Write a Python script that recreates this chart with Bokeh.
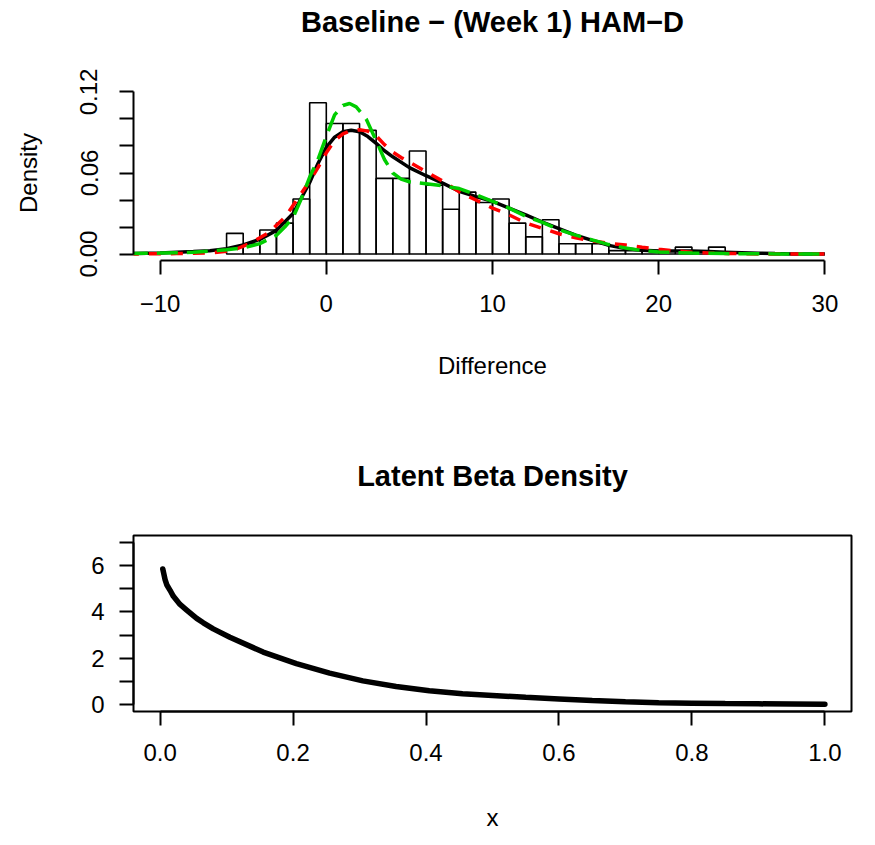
from bokeh.plotting import figure
from bokeh.layouts import column
from bokeh.models import FixedTicker, PrintfTickFormatter, Range1d, Title
from bokeh.embed import file_html
from bokeh.resources import INLINE

FONT = "Liberation Sans"

# ---------------- data: top panel ----------------
bin_left = [-6, -5, -4, -3, -2, -1, 0, 1, 2, 3, 4, 5, 6, 7, 8, 9, 10, 11, 12, 13,
            14, 15, 16, 17, 18, 19, 20, 21, 22, 23]
bin_right = [-5, -4, -3, -2, -1, 0, 1, 2, 3, 4, 5, 6, 7, 8, 9, 10, 11, 12, 13, 14,
             15, 16, 17, 18, 19, 20, 21, 22, 23, 24]
hist_density = [0.0153, 0.0076, 0.0178, 0.0229, 0.0407, 0.1120, 0.0967, 0.0967, 0.0916, 0.0560,
                0.0560, 0.0763, 0.0509, 0.0331, 0.0458, 0.0382, 0.0407, 0.0229, 0.0127, 0.0254,
                0.0076, 0.0076, 0.0076, 0.0025, 0.0025, 0.0025, 0.0, 0.0051, 0.0, 0.0051]

kde_x = [-12, -10, -8, -7, -6, -5, -4, -3, -2, -1, -0.5, 0, 0.5, 1, 1.5, 2, 2.5, 3, 3.5, 4,
         5, 6, 7, 8, 9, 10, 11, 12, 13, 14, 15, 16, 17, 18, 19, 20, 21, 22, 23, 24,
         25, 26, 27, 28, 30]
kde_y = [0.0003, 0.0008, 0.0018, 0.0025, 0.0040, 0.0068, 0.0108, 0.0175, 0.0300, 0.0530,
         0.0670, 0.0790, 0.0865, 0.0905, 0.0916, 0.0905, 0.0870, 0.0820, 0.0765, 0.0720,
         0.0640, 0.0580, 0.0525, 0.0465, 0.0425, 0.0390, 0.0340, 0.0290, 0.0237, 0.0188,
         0.0139, 0.0101, 0.0064, 0.0040, 0.0027, 0.0023, 0.0023, 0.0022, 0.0018, 0.0014,
         0.0010, 0.0006, 0.0003, 0.0001, 0.0]

red_x = [-12, -9, -7, -6, -5.5, -4.5, -3.5, -2.5, -2, -1.5, -1, -0.5, 0, 0.5, 1, 1.5, 2, 2.5, 3, 3.5,
         4, 4.5, 5, 6, 7, 8, 9, 10, 11, 12, 13, 14, 15, 16, 17, 18, 19, 20, 21, 22,
         23, 24, 26, 30]
red_y = [0.0, 0.0003, 0.0008, 0.0020, 0.0032, 0.0085, 0.0155, 0.0270, 0.0360, 0.0450,
         0.0540, 0.0640, 0.0750, 0.0840, 0.0890, 0.0915, 0.0920, 0.0910, 0.0875, 0.0810,
         0.0755, 0.0715, 0.0680, 0.0610, 0.0540, 0.0460, 0.0400, 0.0340, 0.0290, 0.0230,
         0.0190, 0.0150, 0.0120, 0.0098, 0.0080, 0.0066, 0.0050, 0.0035, 0.0023, 0.0014,
         0.0008, 0.0004, 0.0001, 0.0]

green_x = [-12, -10, -8, -6, -5, -4, -3, -2.5, -2, -1.5, -1, -0.5, 0, 0.5, 1, 1.4, 1.8, 2.4, 3, 3.5,
           4, 4.5, 5, 6, 7, 8, 9, 10, 11, 12, 13, 14, 15, 16, 17, 18, 19, 20, 22, 24,
           27, 30]
green_y = [0.0003, 0.0007, 0.0013, 0.0032, 0.0044, 0.0077, 0.0138, 0.0200, 0.0270, 0.0410,
           0.0570, 0.0700, 0.0870, 0.1030, 0.1100, 0.1115, 0.1090, 0.1000, 0.0840, 0.0700,
           0.0600, 0.0555, 0.0535, 0.0520, 0.0505, 0.0485, 0.0440, 0.0390, 0.0340, 0.0280,
           0.0235, 0.0180, 0.0140, 0.0105, 0.0070, 0.0045, 0.0026, 0.0015, 0.0007, 0.0003,
           0.0001, 0.0]

top_title = "Baseline \u2212 (Week 1) HAM\u2212D"
top_x_ticks = [-10, 0, 10, 20, 30]
top_x_labels = {-10: "\u221210"}
top_y_ticks = [0.0, 0.06, 0.12]
top_y_minor = [0.02, 0.04, 0.08, 0.10]

# ---------------- data: bottom panel ----------------
beta_x = [0.004, 0.0075, 0.01, 0.015, 0.02, 0.03, 0.04, 0.055, 0.065, 0.08, 0.105, 0.155,
          0.205, 0.255, 0.305, 0.355, 0.405, 0.455, 0.5, 0.55, 0.6, 0.65, 0.7, 0.75,
          0.8, 0.85, 0.9, 0.95, 1.0]
beta_y = [5.85, 5.39, 5.17, 4.93, 4.67, 4.32, 4.08, 3.72, 3.53, 3.27, 2.91, 2.27,
          1.77, 1.36, 1.03, 0.79, 0.60, 0.47, 0.40, 0.32, 0.25, 0.18, 0.13, 0.09,
          0.07, 0.05, 0.04, 0.03, 0.02]

bot_title = "Latent Beta Density"
bot_x_ticks = [0.0, 0.2, 0.4, 0.6, 0.8, 1.0]
bot_y_ticks = [0, 2, 4, 6]
bot_y_minor = [1, 3, 5, 7]


def style(p):
    p.xgrid.grid_line_color = None
    p.ygrid.grid_line_color = None
    p.background_fill_color = "white"
    p.border_fill_color = "white"
    for ax in list(p.xaxis) + list(p.yaxis):
        ax.axis_line_color = "black"
        ax.axis_line_width = 2
        ax.major_tick_line_color = "black"
        ax.major_tick_line_width = 2
        ax.major_tick_in = 0
        ax.major_tick_out = 14
        ax.minor_tick_line_color = "black"
        ax.minor_tick_line_width = 2
        ax.minor_tick_in = 0
        ax.minor_tick_out = 14
        ax.major_label_text_font = FONT
        ax.major_label_text_font_size = "24px"
        ax.major_label_text_color = "black"
        ax.axis_label_text_font = FONT
        ax.axis_label_text_font_size = "24px"
        ax.axis_label_text_font_style = "normal"
        ax.axis_label_text_color = "black"


def add_title(p, text, gap):
    # spacer panel nearest the frame, then the real title above it
    p.add_layout(Title(text=" ", text_font_size="1px", standoff=gap), "above")
    p.add_layout(Title(text=text, align="center", text_font=FONT, text_font_size="29px",
                       text_font_style="bold", text_color="black", standoff=0), "above")


# ---------------- top figure ----------------
p1 = figure(frame_width=718, frame_height=175,
            x_range=Range1d(-11.6, 31.6), y_range=Range1d(-0.0048, 0.1248),
            min_border_left=133, min_border_right=16, min_border_top=85, min_border_bottom=140,
            output_backend="svg", toolbar_location=None, title=None,
            x_axis_label="Difference", y_axis_label="Density")
style(p1)
p1.outline_line_color = None
add_title(p1, top_title, 45)

p1.quad(left=bin_left, right=bin_right, bottom=0, top=hist_density,
        fill_color=None, line_color="black", line_width=1.6)
p1.line(kde_x, kde_y, line_color="black", line_width=3.5)
p1.line(red_x, red_y, line_color="#FF0000", line_width=3.5, line_dash="12 10")
p1.line(green_x, green_y, line_color="#00CD00", line_width=3.5, line_dash="21 9")

xa = p1.xaxis[0]
xa.ticker = FixedTicker(ticks=top_x_ticks)
xa.major_label_overrides = top_x_labels
xa.bounds = (top_x_ticks[0], top_x_ticks[-1])
xa.major_label_standoff = 20
xa.axis_label_standoff = 37

ya = p1.yaxis[0]
ya.ticker = FixedTicker(ticks=top_y_ticks, minor_ticks=top_y_minor)
ya.formatter = PrintfTickFormatter(format="%.2f")
ya.major_label_orientation = "vertical"
ya.bounds = (top_y_ticks[0], top_y_ticks[-1])
ya.major_label_standoff = 22
ya.axis_label_standoff = 36

# ---------------- bottom figure ----------------
p2 = figure(frame_width=718, frame_height=176,
            x_range=Range1d(-0.04, 1.04), y_range=Range1d(-0.29, 7.29),
            min_border_left=133, min_border_right=16, min_border_top=135, min_border_bottom=126,
            output_backend="svg", toolbar_location=None, title=None,
            x_axis_label="x")
style(p2)
p2.outline_line_color = "black"
p2.outline_line_width = 2
add_title(p2, bot_title, 41)

p2.line(beta_x, beta_y, line_color="black", line_width=5.5, line_cap="round")

xb = p2.xaxis[0]
xb.ticker = FixedTicker(ticks=bot_x_ticks)
xb.formatter = PrintfTickFormatter(format="%.1f")
xb.bounds = (bot_x_ticks[0], bot_x_ticks[-1])
xb.major_label_standoff = 18
xb.axis_label_standoff = 40

yb = p2.yaxis[0]
yb.ticker = FixedTicker(ticks=bot_y_ticks, minor_ticks=bot_y_minor)
yb.bounds = (bot_y_ticks[0], bot_y_minor[-1])
yb.major_label_standoff = 15

layout = column(p1, p2, spacing=0)
open("out.html", "w").write(file_html(layout, INLINE))
